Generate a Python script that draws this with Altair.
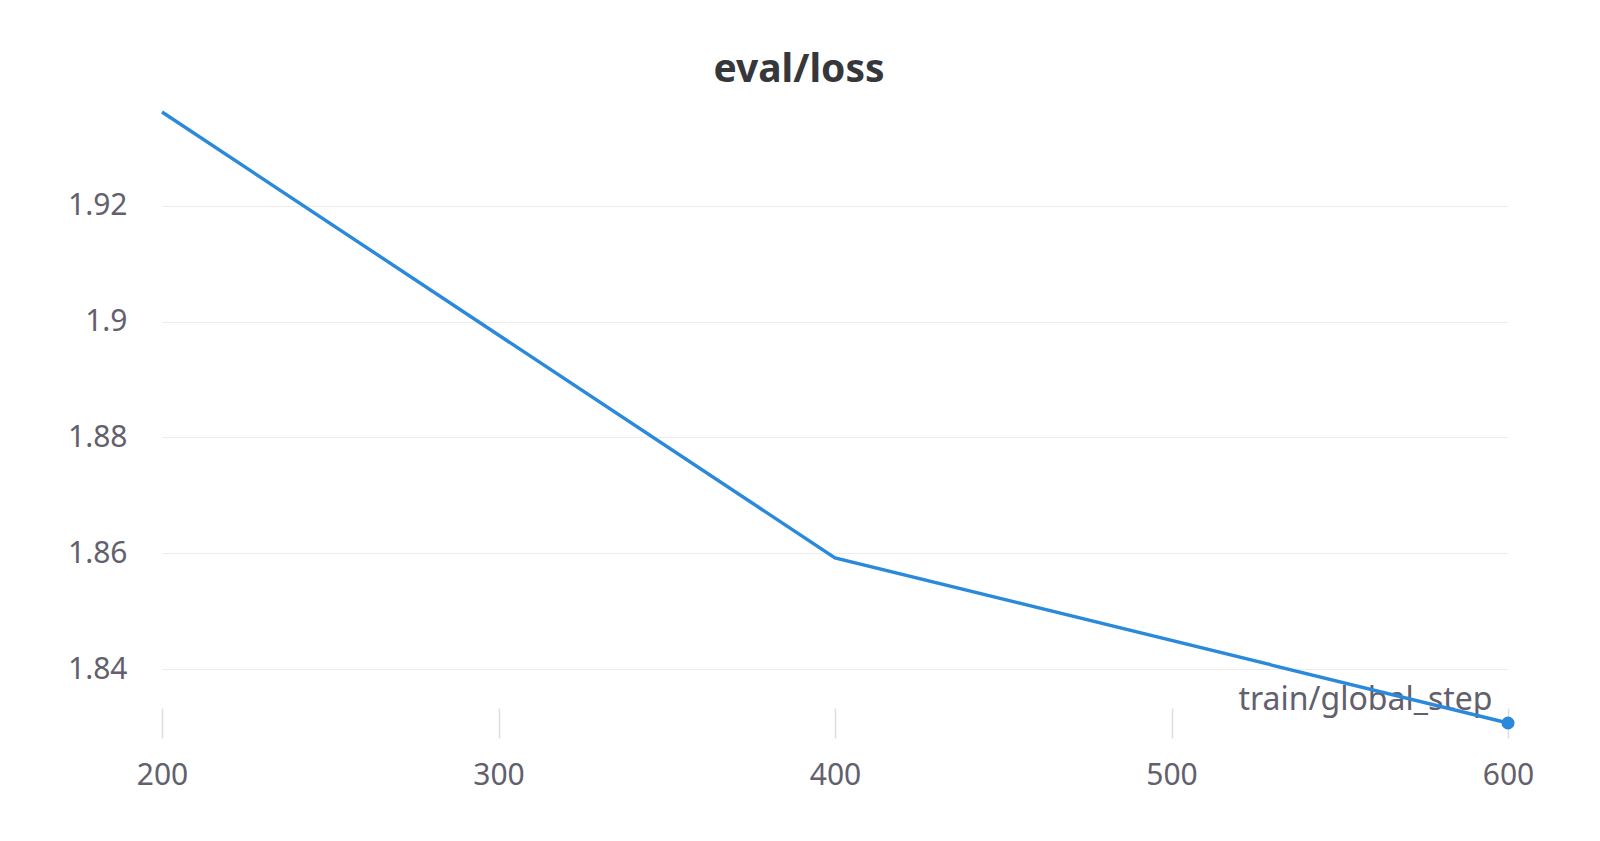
import altair as alt
import pandas as pd

steps = [200, 400, 600]
loss = [1.9362, 1.8592, 1.8307]
x_ticks = [200, 300, 400, 500, 600]
y_ticks = [1.84, 1.86, 1.88, 1.90, 1.92]

df = pd.DataFrame({"step": steps, "loss": loss})
last = df.tail(1)

W, H = 1346, 611
LINE = "#2a89db"
LABEL = "#62606d"

x_scale = alt.Scale(domain=[200, 600], nice=False, zero=False)
y_scale = alt.Scale(domain=[min(loss), max(loss)], nice=False, zero=False)

x_axis = alt.Axis(
    values=x_ticks, format="d", grid=False, domain=False,
    offset=-15, tickSize=30, tickColor="#dedede", tickWidth=1.5,
    labelFont="Noto Sans", labelFontSize=30, labelColor=LABEL, labelPadding=22,
    labelFlush=False, labelOverlap=False,
    title="train/global_step", titleFont="Noto Sans", titleFontSize=32,
    titleFontWeight="normal", titleColor=LABEL, titleAlign="right",
    titleBaseline="middle", titleX=W - 16, titleY=-9, titleAnchor="end",
)
y_axis = alt.Axis(
    values=y_ticks, format=".2~f", grid=True, gridColor="#ececec", gridWidth=1,
    domain=False, ticks=False, tickSize=0,
    labelFont="Noto Sans", labelFontSize=30, labelColor=LABEL, labelPadding=35,
    title=None,
)

line = alt.Chart(df).mark_line(color=LINE, strokeWidth=3.4, clip=False).encode(
    x=alt.X("step:Q", scale=x_scale, axis=x_axis),
    y=alt.Y("loss:Q", scale=y_scale, axis=y_axis),
)
dot = alt.Chart(last).mark_circle(color=LINE, opacity=1, size=170, clip=False).encode(
    x=alt.X("step:Q", scale=x_scale),
    y=alt.Y("loss:Q", scale=y_scale),
)

chart = (line + dot).properties(
    width=W, height=H,
    title=alt.TitleParams(
        "eval/loss", font="Noto Sans", fontSize=39, fontWeight="bold",
        color="#35373b", anchor="middle", dx=-36, dy=46, baseline="alphabetic", offset=30,
    ),
    autosize=alt.AutoSizeParams(type="none"),
    padding={"left": 154, "top": 104, "right": 60, "bottom": 90},
).configure(background="white").configure_view(stroke=None, strokeWidth=0)

chart.save("out.html", embed_options={"renderer": "svg", "actions": False})
